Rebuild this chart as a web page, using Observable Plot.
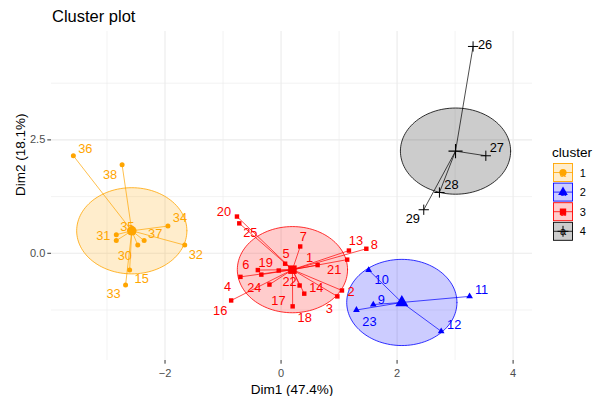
<!DOCTYPE html>
<html><head><meta charset="utf-8">
<script src="https://cdn.jsdelivr.net/npm/d3@7"></script>
<script src="https://cdn.jsdelivr.net/npm/@observablehq/plot@0.6"></script>
<style>
body{margin:0;background:#fff;font-family:"Liberation Sans",Arial,sans-serif;}
#wrap{position:relative;width:593px;height:396px;overflow:hidden;}
#title{height:27px;line-height:32px;font-size:16.5px;padding-left:52px;color:#000;white-space:nowrap;overflow:visible;}
#chart svg{display:block;}
#legend{position:absolute;left:540px;top:130px;overflow:visible;}
</style></head><body>
<div id="wrap"><div id="title">Cluster plot</div><div id="chart"></div><svg id="legend" width="53" height="120"></svg></div>
<script>
// ---- data ----
const ids      = [36, 38, 34, 32, 35, 31, 37, 30, 15, 33,
                  10, 11, 12, 9, 23,
                  20, 25, 4, 6, 24, 19, 5, 17, 16, 18, 7, 1, 13, 8, 21, 2, 3, 14, 22,
                  26, 27, 28, 29];
const dim1     = [-3.58, -2.74, -1.95, -1.66, -2.84, -2.84, -2.36, -2.47, -2.61, -2.68,
                  1.51, 3.25, 2.76, 1.59, 1.30,
                  -0.76, -0.72, -0.70, -0.40, -0.34, -0.04, 0.07, -0.20, -0.86, 0.20, 0.33, 0.63, 1.17, 1.47, 1.14, 1.05, 0.97, 0.40, 0.32,
                  3.31, 3.53, 2.73, 2.46];
const dim2     = [2.15, 1.95, 0.60, 0.18, 0.41, 0.28, 0.28, 0.18, -0.37, -0.70,
                  -0.37, -0.95, -1.72, -1.13, -1.25,
                  0.81, 0.66, -0.52, -0.37, -0.47, -0.38, -0.23, -0.69, -1.04, -1.17, 0.15, -0.26, 0.06, 0.10, -0.14, -0.82, -0.95, -0.89, -0.71,
                  4.56, 2.15, 1.34, 0.96];
const clusterOf = [1,1,1,1,1,1,1,1,1,1,
                   2,2,2,2,2,
                   3,3,3,3,3,3,3,3,3,3,3,3,3,3,3,3,3,3,3,
                   4,4,4,4];
const clusterNames = ["1", "2", "3", "4"];
const ellipseLevel = 0.95;            // radius of the euclidean circles
const xMajor = [-2, 0, 2, 4];
const xMinor = [-3, -1, 1, 3];
const yMajor = [0, 2.5];
const yMinor = [-1.25, 1.25, 3.75];
const xTitle = "Dim1 (47.4%)";
const yTitle = "Dim2 (18.1%)";
const legendTitle = "cluster";

// ---- styles ----
const colors  = ["#FFA500", "#0000FF", "#FF0000", "#000000"];
const symbols = ["circle", "triangle", "square", "plus"];
// label placement (pixel offsets from the point), mimicking the repelled labels
const labelOffset = {
  36:[12,-7], 38:[-12,10], 34:[12,-8], 32:[11,10], 37:[11,-7], 35:[11,-8], 31:[-13,-5], 30:[-13,11], 15:[12,9], 33:[-12,9],
  20:[-13,-5], 25:[11,10], 7:[3,-10], 5:[1,-10], 1:[-8,-7], 13:[7,-10], 8:[8,-4], 21:[-13,10], 2:[9,1], 3:[-8,13],
  14:[12,-6], 22:[-10,-4], 18:[12,12], 4:[-13,10], 6:[-12,-5], 19:[-13,-8], 24:[-7,13], 17:[9,16], 16:[-11,10],
  10:[13,10], 11:[12,-6], 12:[13,-6], 9:[8,-5], 23:[13,12],
  26:[12,-2], 27:[11,-8], 28:[12,-8], 29:[-11,9]
};

const font = "'Liberation Sans', Arial, sans-serif";
const pts = ids.map((id, i) => ({id: String(id), x: dim1[i], y: dim2[i], cluster: String(clusterOf[i])}));
const centers = clusterNames.map(c => {
  const p = pts.filter(d => d.cluster === c);
  return {cluster: c, x: d3.mean(p, d => d.x), y: d3.mean(p, d => d.y)};
});
const centerOf = Object.fromEntries(centers.map(c => [c.cluster, c]));
const links = pts.map(d => ({...d, x1: centerOf[d.cluster].x, y1: centerOf[d.cluster].y}));
const ring = centers.flatMap(c => d3.range(0, 121).map(k => {
  const t = 2 * Math.PI * k / 120;
  return {cluster: c.cluster, x: c.x + ellipseLevel * Math.cos(t), y: c.y + ellipseLevel * Math.sin(t)};
}));
function expand([a, b]) { const m = (b - a) * 0.05; return [a - m, b + m]; }
const xDomain = expand(d3.extent([...pts, ...ring], d => d.x));
const yDomain = expand(d3.extent([...pts, ...ring], d => d.y));

const colorOf = Object.fromEntries(clusterNames.map((c, i) => [c, colors[i]]));

const filled = pts.filter(d => d.cluster !== "4");
const stroked = pts.filter(d => d.cluster === "4");

const marks = [
  Plot.gridX(xMinor, {stroke: "#ebebeb", strokeOpacity: 1, strokeWidth: 0.6}),
  Plot.gridY(yMinor, {stroke: "#ebebeb", strokeOpacity: 1, strokeWidth: 0.6}),
  Plot.gridX(xMajor, {stroke: "#ebebeb", strokeOpacity: 1, strokeWidth: 1.1}),
  Plot.gridY(yMajor, {stroke: "#ebebeb", strokeOpacity: 1, strokeWidth: 1.1}),
  Plot.axisX(xMajor, {tickSize: 3.7, tickPadding: 4.5, fontSize: 11, fill: "#4d4d4d", stroke: "#333333", label: null}),
  Plot.axisY(yMajor, {tickSize: 3.7, tickPadding: 2.5, fontSize: 11, fill: "#4d4d4d", stroke: "#333333", label: null, tickFormat: d3.format(".1f")}),
  Plot.line(ring, {x: "x", y: "y", z: "cluster", fill: "cluster", fillOpacity: 0.2, stroke: "cluster", strokeWidth: 0.8}),
  Plot.link(links, {x1: "x1", y1: "y1", x2: "x", y2: "y", stroke: "cluster", strokeWidth: 0.7}),
  Plot.dot(filled, {x: "x", y: "y", fill: "cluster", symbol: "cluster", r: 2.5}),
  Plot.dot(stroked, {x: "x", y: "y", stroke: "cluster", symbol: "cluster", r: 3.4, strokeWidth: 1}),
  Plot.dot(centers.filter(d => d.cluster !== "4"), {x: "x", y: "y", fill: "cluster", symbol: "cluster", r: 4.8}),
  Plot.dot(centers.filter(d => d.cluster === "4"), {x: "x", y: "y", stroke: "cluster", symbol: "cluster", r: 4.6, strokeWidth: 1.1}),
  ...pts.map(d => Plot.text([d], {x: "x", y: "y", text: "id", fill: colorOf[d.cluster], fontSize: 12.8,
    dx: labelOffset[d.id][0], dy: labelOffset[d.id][1]})),
  Plot.text([xTitle], {frameAnchor: "bottom", lineAnchor: "bottom", dy: 33, fontSize: 13.5, fill: "#000"}),
  Plot.text([yTitle], {frameAnchor: "left", dx: -30.5, rotate: -90, fontSize: 13.5, fill: "#000"})
];

const chart = Plot.plot({
  width: 593, height: 369,
  marginTop: 4, marginBottom: 36, marginLeft: 51, marginRight: 61,
  x: {domain: xDomain},
  y: {domain: yDomain},
  color: {domain: clusterNames, range: colors},
  symbol: {domain: clusterNames, range: symbols},
  style: {fontFamily: font, background: "white", overflow: "visible"},
  marks
});
document.getElementById("chart").appendChild(chart);

// ---- legend (ggplot-style keys) ----
const lg = d3.select("#legend");
lg.append("text").attr("x", 12).attr("y", 27).attr("font-size", 13.6).attr("font-family", font).text(legendTitle);
clusterNames.forEach((c, i) => {
  const y0 = 33.5 + i * 19.6, bx = 13.5, bw = 19, bh = 18;
  const g = lg.append("g");
  g.append("rect").attr("x", bx).attr("y", y0).attr("width", bw).attr("height", bh)
    .attr("fill", colors[i]).attr("fill-opacity", 0.2).attr("stroke", colors[i]).attr("stroke-width", 0.9);
  g.append("line").attr("x1", bx).attr("x2", bx + bw).attr("y1", y0 + bh / 2).attr("y2", y0 + bh / 2)
    .attr("stroke", colors[i]).attr("stroke-width", 0.8);
  g.append("text").attr("x", bx + bw / 2).attr("y", y0 + bh / 2 + 4).attr("text-anchor", "middle")
    .attr("font-size", 11).attr("font-family", font).attr("fill", colors[i]).text("a");
  const sym = d3.symbol().type({circle: d3.symbolCircle, triangle: d3.symbolTriangle, square: d3.symbolSquare, plus: d3.symbolPlus}[symbols[i]]).size(Math.PI * 3.6 * 3.6);
  const p = g.append("path").attr("d", sym()).attr("transform", `translate(${bx + bw / 2},${y0 + bh / 2})`);
  if (symbols[i] === "plus") p.attr("fill", "none").attr("stroke", colors[i]).attr("stroke-width", 1);
  else p.attr("fill", colors[i]);
  lg.append("text").attr("x", 42.7).attr("y", y0 + bh / 2 + 4).attr("text-anchor", "middle")
    .attr("font-size", 11).attr("font-family", font).attr("fill", "#000").text(c);
});
</script>
</body></html>
